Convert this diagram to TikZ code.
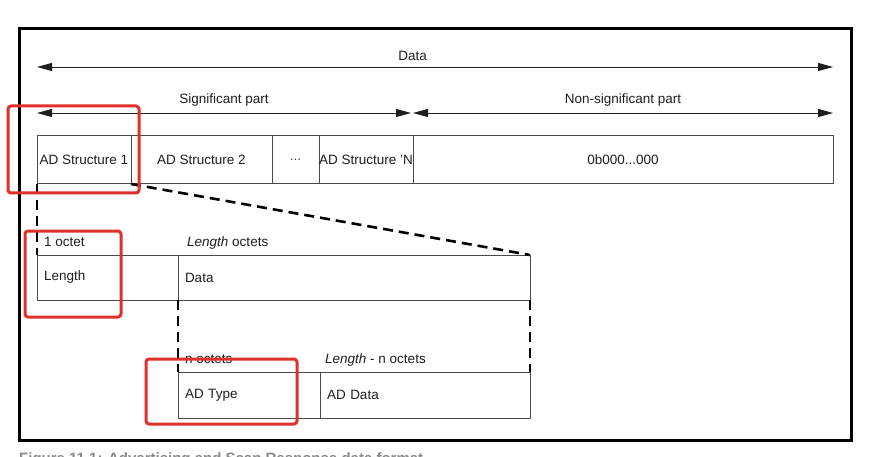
\documentclass[tikz,border=0pt]{standalone}
\usepackage{fontspec}
\setmainfont{Liberation Sans}
\usetikzlibrary{arrows.meta,positioning}
\definecolor{BoxGray}{HTML}{4A4A4A}
\definecolor{TextDark}{HTML}{1E1E1E}
\definecolor{MarkRed}{HTML}{E0302A}
\definecolor{CapGray}{HTML}{8A8A8A}
\tikzset{
    field/.style = {draw=BoxGray, line width=1pt, rectangle,
        inner sep=0pt, outer sep=0pt,
        minimum height=48pt, minimum width=#1},
    lfield/.style = {draw=BoxGray, line width=1pt, rectangle,
        inner xsep=7pt, inner ysep=0pt, outer sep=0pt,
        minimum height=46pt, text width=#1, align=left},
    tag/.style = {anchor=base west, inner sep=0pt},
    span/.style = {draw=TextDark, line width=0.9pt,
        {Triangle[length=15pt,width=8pt]}-{Triangle[length=15pt,width=8pt]}},
    zoomline/.style = {draw=black, line width=2.6pt, dash pattern=on 10pt off 6pt},
    hilite/.style = {draw=MarkRed, line width=3pt, rounded corners=3pt}
}
\begin{document}
\begin{tikzpicture}[x=1pt,y=-1pt,font=\fontsize{13.5}{16}\selectfont,text=TextDark]
    \clip (0,0) rectangle (875,457);
    \fill[white] (0,0) rectangle (875,457);
    % frame
    \draw[line width=3pt] (19,29) rectangle (851,440);

    % spans
    \coordinate (dL) at (37,67);
    \coordinate (dR) at (833,67);
    \coordinate (sL) at (37,113);
    \coordinate (sR) at (411,113);
    \coordinate (nL) at (413,113);
    \coordinate (nR) at (833,113);
    \draw[span] (dL) -- node[pos=0.472,above=6pt,inner sep=0pt] {Data} (dR);
    \draw[span] (sL) -- node[midway,above=6pt,inner sep=0pt] {Significant part} (sR);
    \draw[span] (nL) -- node[midway,above=6pt,inner sep=0pt] {Non-significant part} (nR);

    % AD structures
    \node[field=94pt, anchor=north west] (s1) at (37,136) {AD Structure 1};
    \node[field=141pt, right=0pt of s1] (s2) {AD Structure 2};
    \node[field=47pt, right=0pt of s2, text=BoxGray] (dots) {...};
    \node[field=94pt, right=0pt of dots] (sN) {AD Structure 'N};
    \node[field=420pt, right=0pt of sN] (zero) {0b000...000};

    % one structure
    \node[lfield=127pt, minimum height=45pt, anchor=north west] (len) at (37,255) {Length};
    \node[lfield=338pt, minimum height=45pt, right=0pt of len] (dat) {Data};
    \node[tag] (lenoct) at ([xshift=7pt,yshift=9pt]len.north west) {1 octet};
    \node[tag] (datoct) at ([xshift=9pt,yshift=9pt]dat.north west) {\textit{Length} octets};

    % data field
    \node[lfield=128pt, anchor=north west] (typ) at (178,372) {AD Type};
    \node[lfield=196pt, right=0pt of typ] (add) {AD Data};
    \node[tag] (typoct) at ([xshift=7pt,yshift=9pt]typ.north west) {n octets};
    \node[tag] (addoct) at ([xshift=5pt,yshift=9pt]add.north west) {\textit{Length} - n octets};

    % zoom lines
    \draw[zoomline] (s1.south west) -- (len.north west);
    \draw[zoomline] (s1.south east) -- (dat.north east);
    \draw[zoomline] (dat.south west) -- (typ.north west);
    \draw[zoomline] (dat.south east) -- (add.north east);

    % highlights
    \draw[hilite] (8,106) rectangle (139,193);
    \draw[hilite] (25,231) rectangle (121,317);
    \draw[hilite] (146,359) rectangle (297,424);

    % caption, cut by the page edge
    \node[anchor=north west, inner sep=0pt, text=CapGray, font=\fontsize{15}{18}\selectfont\bfseries] (cap)
        at (19,452.5) {Figure 11.1: Advertising and Scan Response data format};
\end{tikzpicture}
\end{document}
